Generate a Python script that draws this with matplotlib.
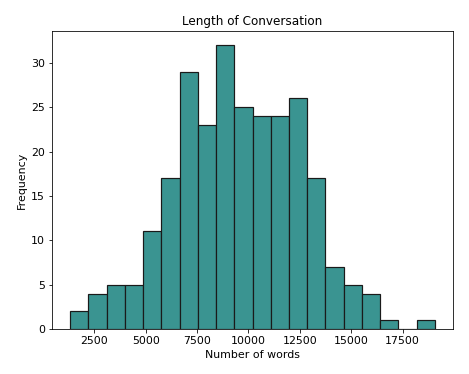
import numpy as np
import matplotlib
matplotlib.use("Agg")
import matplotlib.pyplot as plt

# histogram of conversation lengths
counts = [2, 4, 5, 5, 11, 17, 29, 23, 32, 25, 24, 24, 26, 17, 7, 5, 4, 1, 0, 1]
lo, hi = 1330, 19060

edges = np.linspace(lo, hi, len(counts) + 1)
centers = (edges[:-1] + edges[1:]) / 2

plt.rcParams['font.size'] = 11
fig = plt.figure(figsize=(469 / 72, 374 / 72), dpi=72)
ax = fig.add_axes([52 / 469, 1 - 329 / 374, 401 / 469, 298 / 374])
ax.hist(centers, bins=edges, weights=counts, color='#3a9491', edgecolor='#1a1a1a', linewidth=1.2)
ax.set_title('Length of Conversation', fontsize=12)
ax.set_xlabel('Number of words')
ax.set_ylabel('Frequency')
fig.savefig('out.png', dpi=72)
